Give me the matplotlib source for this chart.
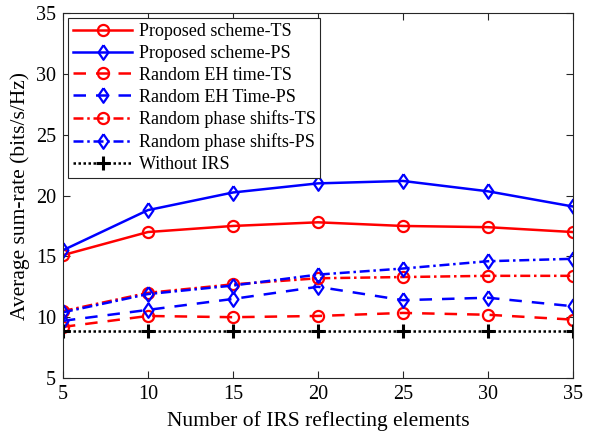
import matplotlib
matplotlib.use("Agg")
import matplotlib.pyplot as plt

plt.rcParams['font.family'] = ['Liberation Serif', 'DejaVu Serif']
plt.rcParams['mathtext.fontset'] = 'stix'

N = [5, 10, 15, 20, 25, 30, 35]
proposed_ts = [15.1, 17.0, 17.5, 17.8, 17.5, 17.4, 17.0]
proposed_ps = [15.5, 18.8, 20.25, 21.0, 21.2, 20.35, 19.1]
rand_eh_ts = [9.2, 10.1, 10.0, 10.1, 10.35, 10.2, 9.8]
rand_eh_ps = [9.7, 10.6, 11.5, 12.5, 11.4, 11.6, 10.9]
rand_ph_ts = [10.5, 12.0, 12.7, 13.2, 13.3, 13.4, 13.4]
rand_ph_ps = [10.4, 11.9, 12.6, 13.5, 14.0, 14.6, 14.8]
without_irs = [8.85, 8.85, 8.85, 8.85, 8.85, 8.85, 8.85]

labels = ["Proposed scheme-TS", "Proposed scheme-PS", "Random EH time-TS",
          "Random EH Time-PS", "Random phase shifts-TS", "Random phase shifts-PS",
          "Without IRS"]

fig = plt.figure(figsize=(5.93, 4.36), dpi=100)
ax = fig.add_axes([0.106, 0.133, 0.86, 0.837])

red = '#ff0000'
blue = '#0000ff'
lw = 1.8
cms = 8
dms = 10.5
mew = 1.6
diamond = [(0, 1), (0.68, 0), (0, -1), (-0.68, 0), (0, 1)]

ax.plot(N, proposed_ts, '-', color=red, lw=lw, marker='o', ms=cms, mfc='none', mew=mew, label=labels[0])
ax.plot(N, proposed_ps, '-', color=blue, lw=lw, marker=diamond, ms=dms, mfc='none', mew=mew, label=labels[1])
ax.plot(N, rand_eh_ts, '--', color=red, lw=lw, marker='o', ms=cms, mfc='none', mew=mew, label=labels[2], dashes=(5, 4))
ax.plot(N, rand_eh_ps, '--', color=blue, lw=lw, marker=diamond, ms=dms, mfc='none', mew=mew, label=labels[3], dashes=(5, 4))
ax.plot(N, rand_ph_ts, '-.', color=red, lw=lw, marker='o', ms=cms, mfc='none', mew=mew, label=labels[4], dashes=(4, 1.5, 1, 1.5))
ax.plot(N, rand_ph_ps, '-.', color=blue, lw=lw, marker=diamond, ms=dms, mfc='none', mew=mew, label=labels[5], dashes=(4, 1.5, 1, 1.5))
ax.plot(N, without_irs, ':', color='black', lw=lw, marker='+', ms=cms + 2, mew=mew + 0.6, label=labels[6], dashes=(1, 1))

ax.set_xlim(5, 35)
ax.set_ylim(5, 35)
ax.set_xticks([5, 10, 15, 20, 25, 30, 35])
ax.set_yticks([5, 10, 15, 20, 25, 30, 35])
ax.tick_params(direction='in', top=True, right=True, labelsize=14.5, length=5, color='#262626', pad=5)
for s in ax.spines.values():
    s.set_color('#262626')
    s.set_linewidth(0.8)

ax.set_xlabel("Number of IRS reflecting elements", fontsize=15.5, labelpad=5)
ax.set_ylabel("Average sum-rate (bits/s/Hz)", fontsize=15.5, labelpad=4)

leg = ax.legend(loc='upper left', fontsize=13, handlelength=3.3, handletextpad=0.35,
                borderaxespad=0.3, labelspacing=0.27, borderpad=0.25, fancybox=False,
                edgecolor='#262626', framealpha=1)
leg.get_frame().set_linewidth(0.8)

fig.savefig("out.png", dpi=100)
